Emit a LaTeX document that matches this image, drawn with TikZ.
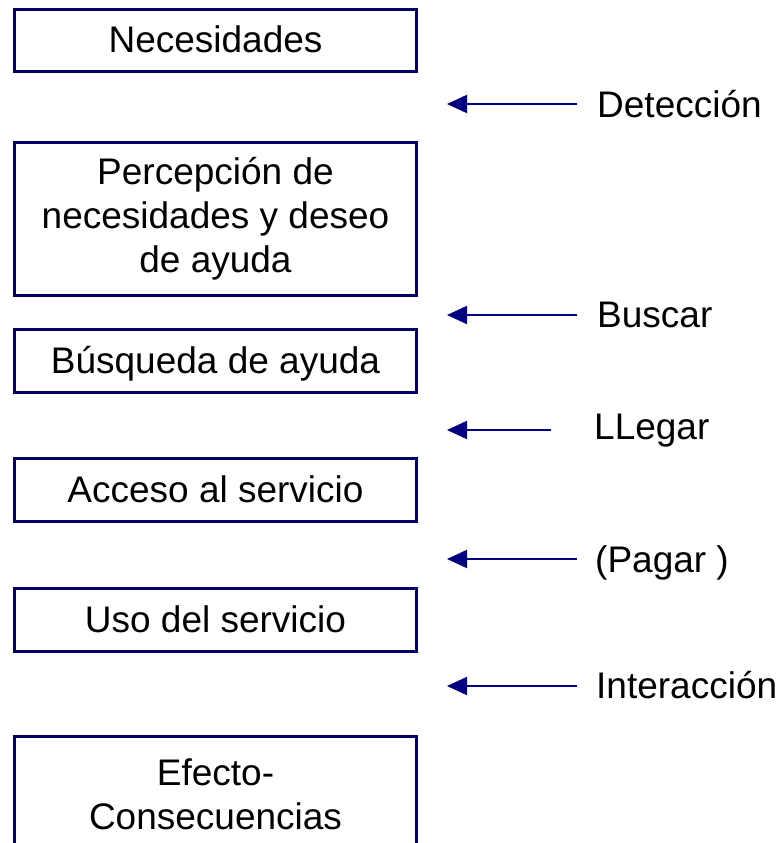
\documentclass[tikz,border=0pt]{standalone}
\usepackage{fontspec}
\setmainfont{Liberation Sans}
\usetikzlibrary{arrows.meta}
\definecolor{boxnavy}{RGB}{0,0,102}
\definecolor{arrnavy}{RGB}{0,0,128}
\tikzset{
  stagebox/.style={draw=boxnavy, line width=3pt, minimum width=402pt, inner sep=0pt,
    align=center, font=\fontsize{37}{44}\selectfont},
  onebox/.style={stagebox, minimum height=63pt, text height=24pt, text depth=0pt},
  lbl/.style={anchor=base west, inner sep=0pt, font=\fontsize{37}{44}\selectfont},
  lnk/.style={draw=arrnavy, line width=2pt, -{Triangle[length=20pt,width=18pt]}}
}
\begin{document}
\begin{tikzpicture}[x=1pt,y=-1pt]
\useasboundingbox (0,0) rectangle (781,843);
\node[onebox, minimum height=62pt] (b1) at (215.5,40.5) {Necesidades};
\node[stagebox, minimum height=153pt] (b2) at (215.5,218.5) {Percepción de\\necesidades y deseo\\de ayuda};
\node[onebox] (b3) at (215.5,361) {Búsqueda de ayuda};
\node[onebox] (b4) at (215.5,490) {Acceso al servicio};
\node[onebox] (b5) at (215.5,620) {Uso del servicio};
\node[stagebox, minimum height=115pt] (b6) at (215.5,794) {Efecto-\\Consecuencias};

\node[lbl] (l1) at (597,117) {Detección};
\node[lbl] (l2) at (597,327) {Buscar};
\node[lbl] (l3) at (594,439) {LLegar};
\node[lbl] (l4) at (595,572) {(Pagar )};
\node[lbl] (l5) at (596,698) {Interacción};

\coordinate (s1) at (577,104); \coordinate (e1) at (447,104);
\coordinate (s2) at (577,315); \coordinate (e2) at (447,315);
\coordinate (s3) at (551,430); \coordinate (e3) at (447,430);
\coordinate (s4) at (577,559); \coordinate (e4) at (447,559);
\coordinate (s5) at (577,686); \coordinate (e5) at (447,686);
\foreach \i in {1,...,5} \draw[lnk] (s\i) -- (e\i);
\end{tikzpicture}
\end{document}
